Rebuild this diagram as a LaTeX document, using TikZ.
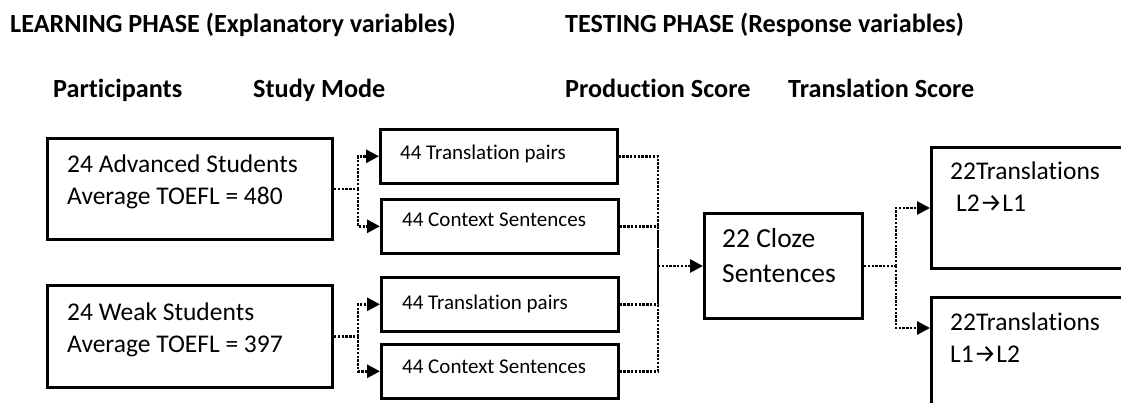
\documentclass[tikz,border=0pt]{standalone}
\usepackage{fontspec}
\setmainfont{Carlito}[Ligatures=NoCommon]
\newfontfamily\arrfont{Fira Sans}
\usetikzlibrary{arrows.meta,calc}
\begin{document}
\begin{tikzpicture}[x=1pt,y=-1pt,
  hdr/.style={font=\bfseries\fontsize{26.2}{31}\selectfont, anchor=base west, inner sep=0pt},
  txt/.style={font=\fontsize{25.5}{30}\selectfont, anchor=base west, inner sep=0pt},
  stxt/.style={font=\fontsize{21}{25}\selectfont, anchor=base west, inner sep=0pt},
  ctxt/.style={font=\fontsize{27.5}{32}\selectfont, anchor=base west, inner sep=0pt},
  bigbox/.style={draw, line width=3pt, anchor=north west, inner sep=0pt},
  smallbox/.style={draw, line width=2.6pt, anchor=north west, inner sep=0pt, minimum width=237pt, minimum height=54pt},
  dotline/.style={line width=2.9pt, dash pattern=on 2.4pt off 1.4pt},
  arr/.style={dotline, -{Triangle[length=13pt,width=13pt]}}
]
\useasboundingbox (0,0) rectangle (1121,403);
% headers
\node[hdr] (h1) at (10,33) {LEARNING PHASE (Explanatory variables)};
\node[hdr] (h2) at (565,33) {TESTING PHASE (Response variables)};
\node[hdr] (h3) at (53,98) {Participants};
\node[hdr] (h4) at (253,98) {Study Mode};
\node[hdr] (h5) at (565,98) {Production Score};
\node[hdr] (h6) at (788,98) {Translation Score};
% participant boxes
\node[bigbox, minimum width=285pt, minimum height=101pt] (adv) at (46,137) {};
\node[txt] (adv1) at (67,173) {24 Advanced Students};
\node[txt] (adv2) at (67,205) {Average TOEFL = 480};
\node[bigbox, minimum width=285pt, minimum height=102pt] (weak) at (46,284) {};
\node[txt] (weak1) at (67,320) {24 Weak Students};
\node[txt] (weak2) at (67,352) {Average TOEFL = 397};
% study mode boxes
\node[smallbox] (tp1) at (379,128) {};
\node[stxt] (tp1t) at (400,160) {44 Translation pairs};
\node[smallbox] (cs1) at (380,198) {};
\node[stxt] (cs1t) at (402,227) {44 Context Sentences};
\node[smallbox] (tp2) at (380,276) {};
\node[stxt] (tp2t) at (402,309) {44 Translation pairs};
\node[smallbox] (cs2) at (380,343) {};
\node[stxt] (cs2t) at (402,373) {44 Context Sentences};
% cloze
\node[bigbox, minimum width=158pt, minimum height=105pt] (cloze) at (703,212) {};
\node[ctxt] (cl1) at (722,248) {22 Cloze};
\node[ctxt] (cl2) at (722,283) {Sentences};
% right boxes
\node[bigbox, minimum width=300pt, minimum height=121pt] (rb1) at (930,146) {};
\node[txt] (rb1a) at (950,180) {22Translations};
\node[txt] (rb1b) at (956,212) {L2{\arrfont\fontsize{25}{28}\selectfont →}L1};
\node[bigbox, minimum width=300pt, minimum height=150pt] (rb2) at (930,296) {};
\node[txt] (rb2a) at (950,330) {22Translations};
\node[txt] (rb2b) at (950,362) {L1{\arrfont\fontsize{25}{28}\selectfont →}L2};
% connectors
\draw[dotline] (adv.east) -- ++(24,0) coordinate (j1);
\draw[arr] (j1) |- (tp1.west);
\draw[arr] (j1) |- (cs1.west);
\draw[dotline] (weak.east) -- ++(24,0) coordinate (j2);
\draw[arr] (j2) |- (tp2.west);
\draw[arr] (j2) |- (cs2.west);
\coordinate (jm) at ($(cloze.west)+(-45,0)$);
\draw[dotline] (tp1.east) -| (jm);
\draw[dotline] (cs1.east) -| (jm);
\draw[dotline] (tp2.east) -| (jm);
\draw[dotline] (cs2.east) -| (jm);
\draw[arr] (jm) -- (cloze.west);
\draw[dotline] (cloze.east) -- ++(32,0) coordinate (jr);
\draw[arr] (jr) |- (rb1.west);
\draw[arr] (jr) |- ([yshift=-32pt]rb2.north west);
\end{tikzpicture}
\end{document}
